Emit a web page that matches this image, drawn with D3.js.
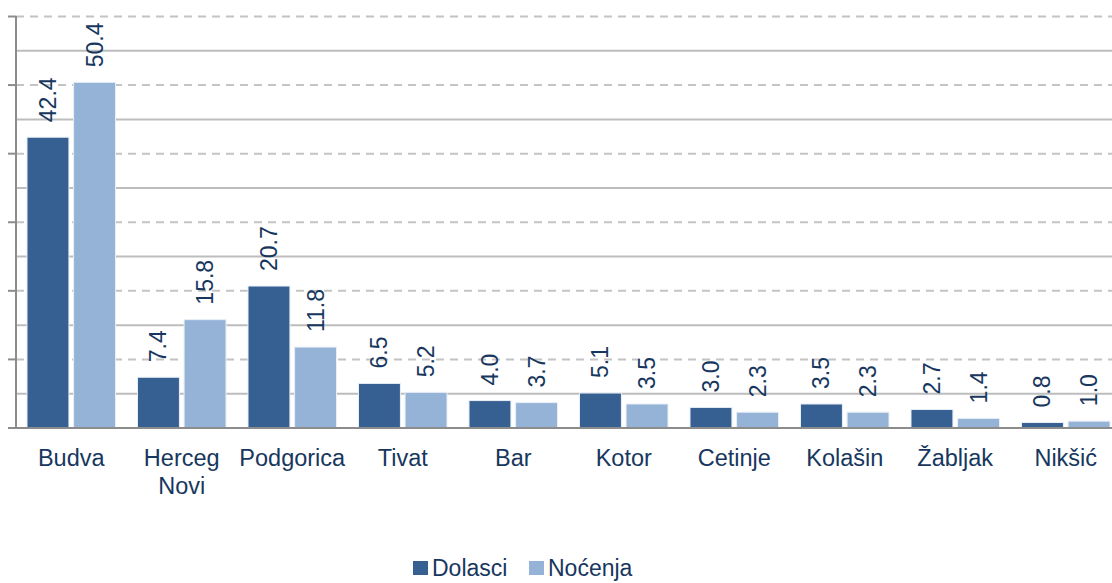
<!DOCTYPE html>
<html>
<head>
<meta charset="utf-8">
<script src="https://cdn.jsdelivr.net/npm/d3@7"></script>
<style>
  body { margin: 0; background: #fff; }
  svg { display: block; font-family: "Liberation Sans", Arial, sans-serif; }
</style>
</head>
<body>
<div id="chart"></div>
<script>
const cities = ["Budva", "Herceg Novi", "Podgorica", "Tivat", "Bar", "Kotor", "Cetinje", "Kolašin", "Žabljak", "Nikšić"];
const dolasci = [42.4, 7.4, 20.7, 6.5, 4.0, 5.1, 3.0, 3.5, 2.7, 0.8];
const nocenja = [50.4, 15.8, 11.8, 5.2, 3.7, 3.5, 2.3, 2.3, 1.4, 1.0];
const seriesNames = ["Dolasci", "Noćenja"];
const colors = ["#376092", "#95b3d7"];
const textColor = "#17375e";

const width = 1112, height = 583;

const svg = d3.select("#chart").append("svg")
  .attr("width", width)
  .attr("height", height);

const y = d3.scaleLinear().domain([0, 60]).range([428, 16.5]);
const x0 = d3.scaleBand().domain(cities).range([16, 1121]);
const x1 = d3.scaleBand().domain(seriesNames)
  .range([11, x0.bandwidth() - 11])
  .paddingInner(0.1);

// gridlines: solid at odd fives, dashed at tens
const minor = d3.range(5, 60, 10);
const major = d3.range(10, 61, 10);

svg.append("g").selectAll("line")
  .data(minor)
  .join("line")
  .attr("x1", 16).attr("x2", width)
  .attr("y1", d => y(d)).attr("y2", d => y(d))
  .attr("stroke", "#bdbdbd").attr("stroke-width", 2);

svg.append("g").selectAll("line")
  .data(major)
  .join("line")
  .attr("x1", 16).attr("x2", width)
  .attr("y1", d => y(d)).attr("y2", d => y(d))
  .attr("stroke", "#c4c4c4").attr("stroke-width", 2)
  .attr("stroke-dasharray", "8,6");

// tick marks on the left of the axis
svg.append("g").selectAll("line")
  .data([0].concat(major))
  .join("line")
  .attr("x1", 8).attr("x2", 16)
  .attr("y1", d => y(d)).attr("y2", d => y(d))
  .attr("stroke", "#8c8c8c").attr("stroke-width", 2);

// bars
const groups = svg.append("g").selectAll("g")
  .data(cities)
  .join("g")
  .attr("transform", d => `translate(${x0(d)},0)`);

const barData = (c, i) => [
  { key: seriesNames[0], value: dolasci[i], color: colors[0] },
  { key: seriesNames[1], value: nocenja[i], color: colors[1] }
];

groups.selectAll("rect")
  .data(barData)
  .join("rect")
  .attr("x", d => x1(d.key))
  .attr("y", d => y(d.value))
  .attr("width", x1.bandwidth())
  .attr("height", d => y(0) - y(d.value))
  .attr("fill", d => d.color)
  .attr("stroke", "#e8eef6")
  .attr("stroke-width", 1);

// value labels, rotated
groups.selectAll("text.val")
  .data(barData)
  .join("text")
  .attr("class", "val")
  .attr("transform", d => `translate(${x1(d.key) + x1.bandwidth() / 2 + 8},${y(d.value) - 15}) rotate(-90)`)
  .attr("font-size", 23)
  .attr("fill", textColor)
  .text(d => d.value.toFixed(1));

// axes lines
svg.append("line")
  .attr("x1", 16).attr("x2", 16)
  .attr("y1", 16).attr("y2", y(0))
  .attr("stroke", "#8c8c8c").attr("stroke-width", 2);
svg.append("line")
  .attr("x1", 8).attr("x2", width)
  .attr("y1", y(0)).attr("y2", y(0))
  .attr("stroke", "#8c8c8c").attr("stroke-width", 2);

// category labels
const catLabels = svg.append("g").selectAll("text")
  .data(cities)
  .join("text")
  .attr("x", d => x0(d) + x0.bandwidth() / 2)
  .attr("y", 466)
  .attr("text-anchor", "middle")
  .attr("font-size", 23.5)
  .attr("fill", textColor);

catLabels.each(function(d) {
  const t = d3.select(this);
  const words = d === "Herceg Novi" ? ["Herceg", "Novi"] : [d];
  words.forEach((w, i) => {
    t.append("tspan")
      .attr("x", x0(d) + x0.bandwidth() / 2)
      .attr("dy", i === 0 ? 0 : 28)
      .text(w);
  });
});

// legend
const legend = svg.append("g").attr("transform", "translate(413,561)");
const legendX = [0, 116];
seriesNames.forEach((name, i) => {
  const g = legend.append("g").attr("transform", `translate(${legendX[i]},0)`);
  g.append("rect").attr("width", 15).attr("height", 14).attr("fill", colors[i]);
  g.append("text").attr("x", 19).attr("y", 15)
    .attr("font-size", 23).attr("fill", textColor)
    .text(name);
});
</script>
</body>
</html>
